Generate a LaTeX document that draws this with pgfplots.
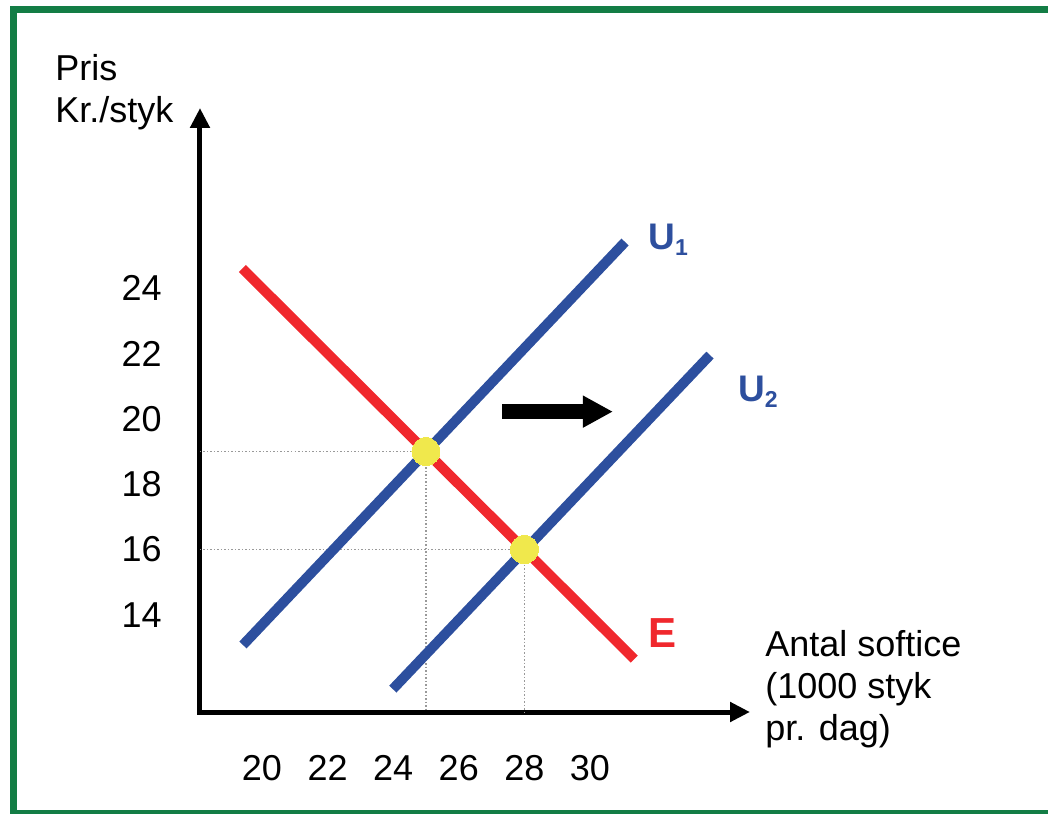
\documentclass[border=0pt]{standalone}
\usepackage{fontspec}
\setmainfont{Liberation Sans}
\usepackage{pgfplots}
\pgfplotsset{compat=1.18}
\usetikzlibrary{arrows.meta}

\definecolor{framegreen}{HTML}{137D45}
\definecolor{ered}{HTML}{F0282D}
\definecolor{ublue}{HTML}{2D4F9E}
\definecolor{eqyel}{HTML}{F0E84C}

\begin{document}
\begin{tikzpicture}[x=1pt,y=1pt]
\path[use as bounding box] (-100,-50.5) rectangle (424,356);
\begin{scope}
\clip (-100,-50.5) rectangle (424,356);
\draw[framegreen, line width=3.5pt] (-93.25,-50.75) rectangle (426,351.25);
\end{scope}

\begin{axis}[
  at={(0,0)}, anchor=south west,
  scale only axis, width=275pt, height=302pt,
  xmin=18.11, xmax=34.88, ymin=11.03, ymax=29.51,
  axis lines=left,
  axis line style={line width=2.5pt, line cap=rect, -{Triangle[length=10pt,width=9.5pt]}},
  clip=false,
  xtick={20,22,24,26,28,30},
  ytick={14,16,18,20,22,24},
  major tick length=0pt,
  /pgf/number format/assume math mode=true,
  xticklabel style={anchor=north, inner sep=0pt, yshift=-21.5pt, font=\fontsize{18}{20}\selectfont},
  yticklabel style={anchor=east, inner sep=0pt, xshift=-19pt, font=\fontsize{18}{20}\selectfont},
  xlabel={Antal softice\\(1000 styk\\pr. dag)},
  ylabel={Pris\\Kr./styk},
  every axis x label/.style={at={(axis description cs:1.0273,-0.0464)}, anchor=base west,
    align=left, inner sep=0pt, font=\fontsize{18}{21}\selectfont},
  every axis y label/.style={at={(axis description cs:-0.2636,0.9752)}, anchor=base west,
    align=left, inner sep=0pt, font=\fontsize{18}{21}\selectfont},
]
% hjaelpelinjer til ligevaegtene
\addplot[gray!80, densely dotted, line width=0.75pt] coordinates {(18.11,19) (25,19) (25,11.03)};
\addplot[gray!80, densely dotted, line width=0.75pt] coordinates {(18.11,16) (28,16) (28,11.03)};
% efterspoergsel og udbud
\addplot[ered, line width=5pt] coordinates {(19.4,24.6) (31.35,12.65)};
\addplot[ublue, line width=5pt] coordinates {(19.42,13.08) (31.07,25.41)};
\addplot[ublue, line width=5pt] coordinates {(23.99,11.73) (33.66,21.95)};
% ligevaegte
\addplot[eqyel, only marks, mark=*, mark size=7pt, mark options={fill=eqyel, draw=eqyel, line width=0pt}]
  coordinates {(25,19) (28,16)};
% forskydning
\addplot[black, line width=7.5pt, -{Triangle[length=15pt,width=15pt]}]
  coordinates {(27.32,20.22) (30.70,20.22)};

\node[anchor=base west, inner sep=0pt, text=ublue, font=\bfseries\fontsize{18.5}{18.5}\selectfont]
  at (axis cs:31.77,25.17) {U\raisebox{-3pt}{\fontsize{11.5}{11.5}\selectfont 1}};
\node[anchor=base west, inner sep=0pt, text=ublue, font=\bfseries\fontsize{18.5}{18.5}\selectfont]
  at (axis cs:34.51,20.52) {U\raisebox{-3pt}{\fontsize{11.5}{11.5}\selectfont 2}};
\node[anchor=base west, inner sep=0pt, text=ered, font=\bfseries\fontsize{21}{21}\selectfont]
  at (axis cs:31.77,12.99) {E};
\end{axis}
\end{tikzpicture}
\end{document}
